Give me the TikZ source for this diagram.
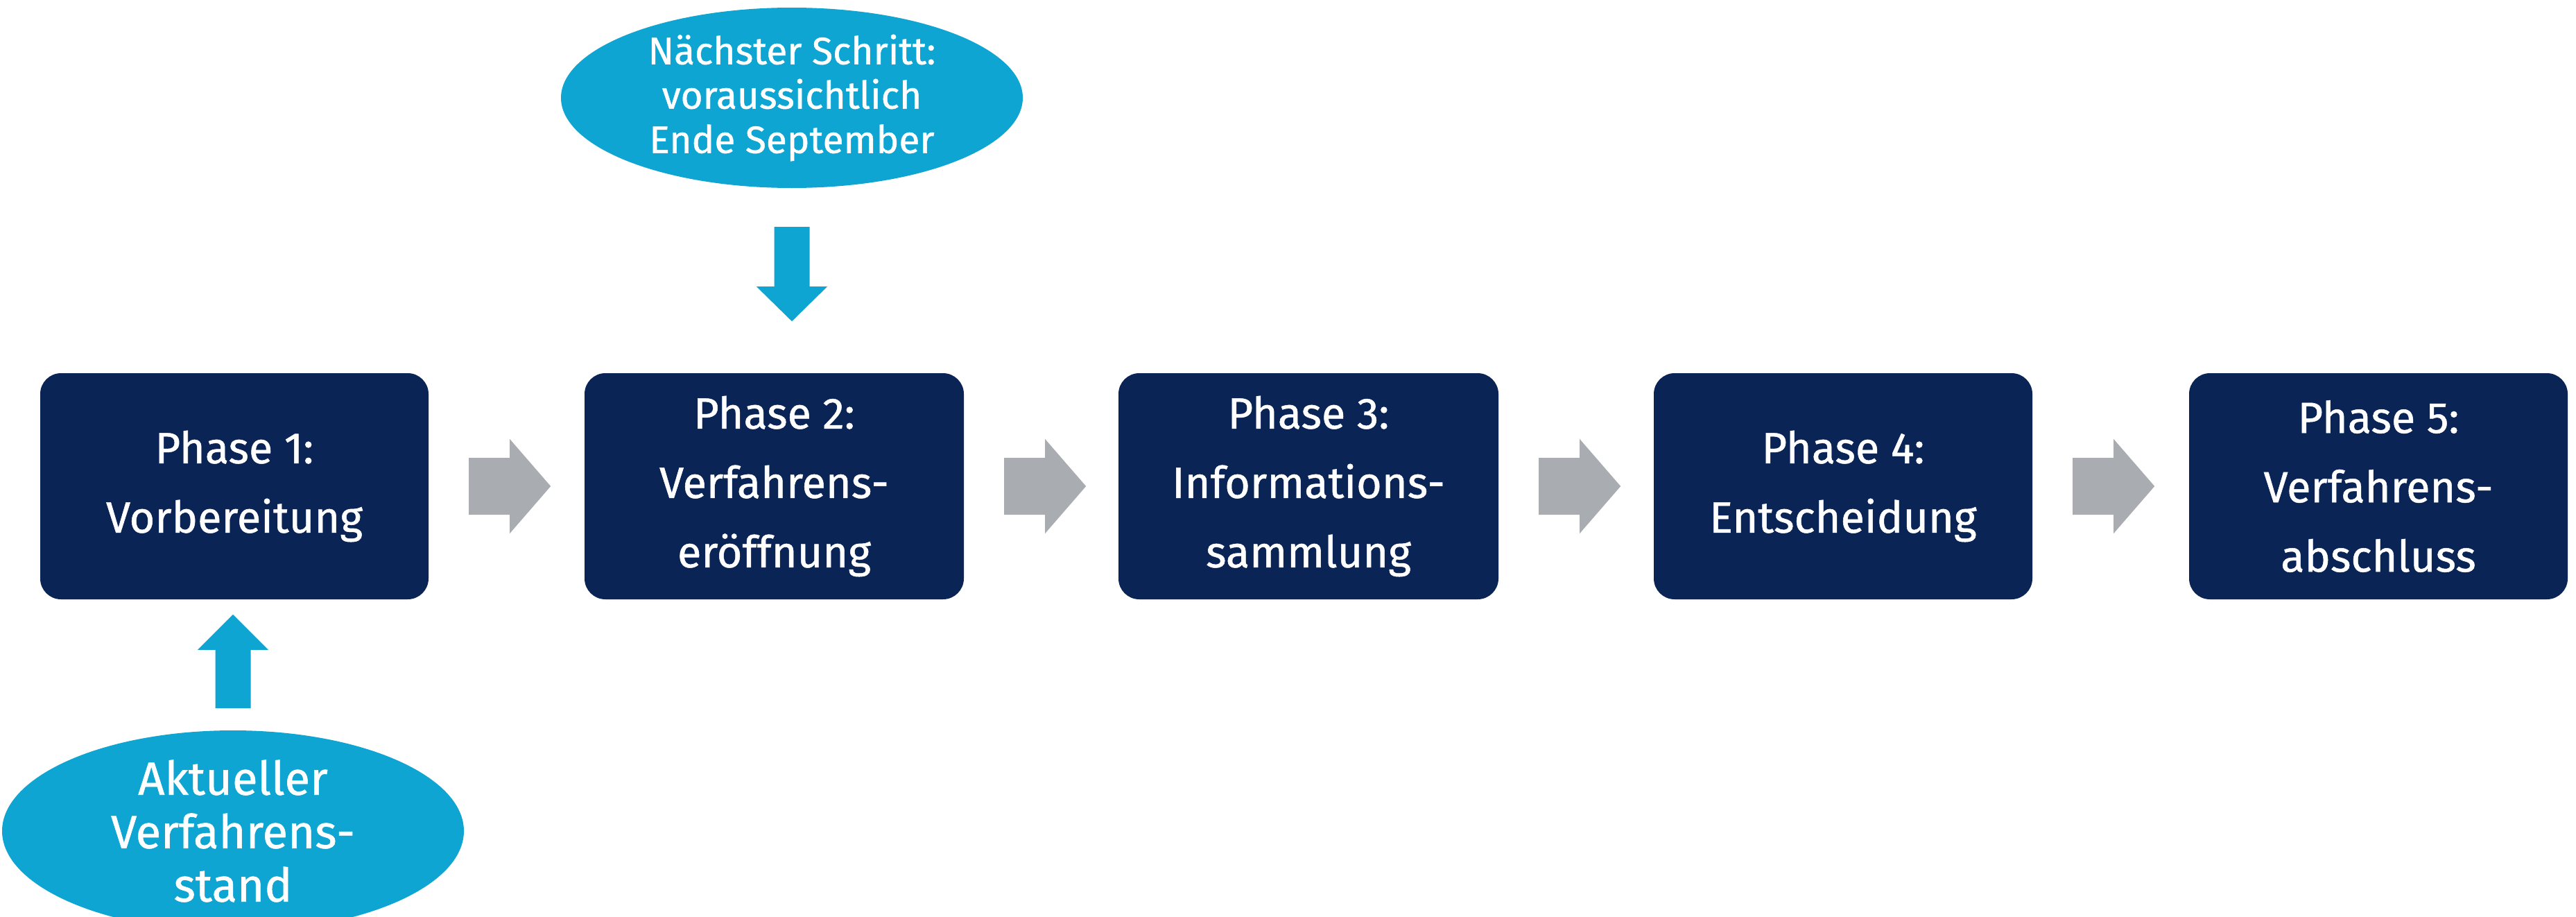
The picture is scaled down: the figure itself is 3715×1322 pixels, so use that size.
\documentclass[tikz,border=0pt]{standalone}
\usepackage{fontspec}
\setmainfont{Fira Sans}[FakeBold=0.8]
\usetikzlibrary{shapes.geometric,calc}
\definecolor{navy}{RGB}{10,36,86}
\definecolor{cyanblue}{RGB}{14,165,210}
\definecolor{arrgray}{RGB}{169,172,177}
\begin{document}
\begin{tikzpicture}[x=1pt,y=-1pt,
  phase/.style={fill=navy, rounded corners=30pt, minimum height=326pt, text=white, align=center, font=\fontsize{63}{100}\selectfont, inner sep=0pt},
  note/.style={ellipse, fill=cyanblue, text=white, align=center, inner sep=0pt, minimum width=666pt, minimum height=260pt},
  flowarrow/.style={fill=arrgray},
  markarrow/.style={fill=cyanblue}]
\useasboundingbox (0,0) rectangle (3715,1322);
\node[phase, minimum width=560pt] (p1) at (338,701) {Phase 1:\\Vorbereitung};
\node[phase, minimum width=547pt] (p2) at (1116.5,701) {Phase 2:\\Verfahrens-\\eröffnung};
\node[phase, minimum width=548pt] (p3) at (1887,701) {Phase 3:\\Informations-\\sammlung};
\node[phase, minimum width=546pt] (p4) at (2658,701) {Phase 4:\\Entscheidung};
\node[phase, minimum width=546pt] (p5) at (3430,701) {Phase 5:\\Verfahrens-\\abschluss};
\node[note, font=\fontsize{55}{64}\selectfont] (next) at (1142,141) {Nächster Schritt:\\voraussichtlich\\Ende September};
\node[note, font=\fontsize{67}{77}\selectfont] (now) at (336,1198) {Aktueller\\Verfahrens-\\stand};
\foreach \a/\b in {p1/p2,p2/p3,p3/p4,p4/p5}{
  \fill[flowarrow] ($(\a.east)+(58,-41)$) -- ++(59,0) -- ++(0,-27) -- ++(59,68) -- ++(-59,68) -- ++(0,-27) -- ++(-59,0) -- cycle;
}
\fill[markarrow] ($(next.south)+(-25.5,56)$) -- ++(51,0) -- ++(0,86) -- ++(25.5,0) -- ++(-51,50) -- ++(-51,-50) -- ++(25.5,0) -- cycle;
\fill[markarrow] ($(now.north)+(-25.5,-32)$) -- ++(51,0) -- ++(0,-84) -- ++(25.5,0) -- ++(-51,-51) -- ++(-51,51) -- ++(25.5,0) -- cycle;
\end{tikzpicture}
\end{document}
